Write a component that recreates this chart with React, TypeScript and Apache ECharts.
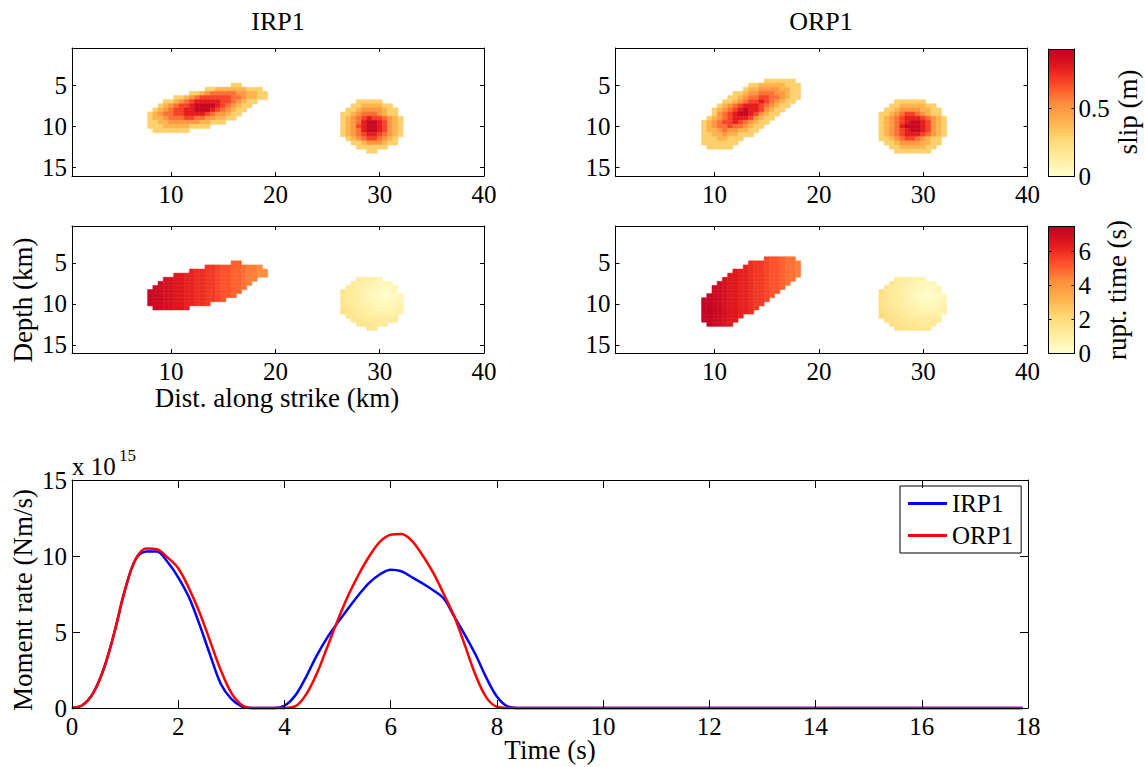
import React, { useEffect, useRef } from 'react';
import * as echarts from 'echarts';

const FONT = '"Liberation Serif", "Times New Roman", serif';
const FS = 25;
const LABEL_FS = 27;
const COLORMAP = ['#ffffcc', '#ffeda0', '#fed976', '#feb24c', '#fd8d3c', '#fc4e2a', '#e31a1c', '#bd0026'];

const SLIP_MAX = 0.94;
const RUPT_MAX = 7.45;
const SLIP_UNIT = 0.1; // one code step in metres
const RUPT_UNIT = 0.25; // one code step in seconds
const CELL = 0.5; // km

// rows: [depth (km), first along-strike cell (km), base-36 codes per 0.5 km cell]
type Row = [number, number, string];

const slipIRP1: Row[] = [
  [5.0, 16.0, '33'],
  [5.5, 13.5, '33444444333'],
  [6.0, 12.0, '334566666554433'],
  [6.5, 10.5, '334567777776654433'],
  [7.0, 9.5, '334567888887765433'],
  [7.5, 9.0, '345677899998765433'],
  [8.0, 8.5, '345677889998765433'],
  [8.5, 8.0, '345667788887655433'],
  [9.0, 8.0, '34456667766554433'],
  [9.5, 8.0, '334455555544333'],
  [10.0, 8.0, '333444443333'],
  [10.5, 8.5, '3333333'],
  [7.0, 28.0, '33333'],
  [7.5, 27.5, '33444433'],
  [8.0, 27.0, '3345555433'],
  [8.5, 26.5, '33456665433'],
  [9.0, 26.5, '345678776543'],
  [9.5, 26.5, '345689987543'],
  [10.0, 26.5, '345789987543'],
  [10.5, 26.5, '345689987543'],
  [11.0, 26.5, '345678876543'],
  [11.5, 27.0, '3456776543'],
  [12.0, 27.5, '334555433'],
  [12.5, 28.0, '333333'],
  [13.0, 29.0, '33'],
];

const slipORP1: Row[] = [
  [4.5, 15.0, '333333'],
  [5.0, 13.5, '3344444333'],
  [5.5, 13.0, '34455554433'],
  [6.0, 12.0, '3345566655433'],
  [6.5, 11.5, '33456677665433'],
  [7.0, 11.0, '33456778765433'],
  [7.5, 10.5, '34567888765433'],
  [8.0, 10.0, '34567898875433'],
  [8.5, 10.0, '3567899875433'],
  [9.0, 9.5, '3456788875433'],
  [9.5, 9.0, '3456778765433'],
  [10.0, 9.0, '345667665433'],
  [10.5, 9.0, '34456554433'],
  [11.0, 9.0, '3344544333'],
  [11.5, 9.0, '33344333'],
  [12.0, 9.0, '3333333'],
  [12.5, 9.5, '33333'],
  [7.0, 27.5, '333333'],
  [7.5, 27.0, '334444433'],
  [8.0, 26.5, '33455554433'],
  [8.5, 26.0, '334567765433'],
  [9.0, 26.0, '3456788876543'],
  [9.5, 26.0, '3456789987543'],
  [10.0, 26.0, '3456899987543'],
  [10.5, 26.0, '3456789987543'],
  [11.0, 26.0, '3456788876543'],
  [11.5, 26.0, '334567765433'],
  [12.0, 26.5, '33455554433'],
  [12.5, 27.0, '334444433'],
  [13.0, 27.5, '3333333'],
];

const ruptIRP1: Row[] = [
  [5.0, 16.0, 'kk'],
  [5.5, 13.5, 'nnmllkkjiih'],
  [6.0, 12.0, 'poonnmllkkjiihh'],
  [6.5, 10.5, 'qqppoonnmllkkjiihh'],
  [7.0, 9.5, 'rrqqppoonnmllkkjii'],
  [7.5, 9.0, 'srrqqppoonnmllkkji'],
  [8.0, 8.5, 'ssrrqqppoonnmllkkj'],
  [8.5, 8.0, 'tssrrqqppoonnmllkk'],
  [9.0, 8.0, 'tssrrqqppoonnmllk'],
  [9.5, 8.0, 'tssrrqqppoonnml'],
  [10.0, 8.0, 'tssrrqqppoon'],
  [10.5, 8.5, 'ssrrqqp'],
  [7.0, 28.0, '54433'],
  [7.5, 27.5, '54433222'],
  [8.0, 27.0, '5543322122'],
  [8.5, 26.5, '65543221112'],
  [9.0, 26.5, '654432110112'],
  [9.5, 26.5, '655432211122'],
  [10.0, 26.5, '655433221223'],
  [10.5, 26.5, '665443322233'],
  [11.0, 26.5, '765544333334'],
  [11.5, 27.0, '6655444444'],
  [12.0, 27.5, '665555455'],
  [12.5, 28.0, '666555'],
  [13.0, 29.0, '66'],
];

const ruptORP1: Row[] = [
  [4.5, 15.0, 'mllkjj'],
  [5.0, 13.5, 'onnmllkjji'],
  [5.5, 13.0, 'ponnmllkjji'],
  [6.0, 12.0, 'qpponnmllkjji'],
  [6.5, 11.5, 'qqpponnmllkjji'],
  [7.0, 11.0, 'rqqpponnmllkjj'],
  [7.5, 10.5, 'srqqpponnmllkj'],
  [8.0, 10.0, 'ssrqqpponnmllk'],
  [8.5, 10.0, 'ssrqqpponnmll'],
  [9.0, 9.5, 'tssrqqpponnml'],
  [9.5, 9.0, 'ttssrqqpponnm'],
  [10.0, 9.0, 'ttssrqqpponn'],
  [10.5, 9.0, 'ttssrqqppon'],
  [11.0, 9.0, 'ttssrqqppo'],
  [11.5, 9.0, 'ttssrqqp'],
  [12.0, 9.0, 'ttssrqq'],
  [12.5, 9.5, 'tssrq'],
  [7.0, 27.5, '554433'],
  [7.5, 27.0, '654433222'],
  [8.0, 26.5, '65543322122'],
  [8.5, 26.0, '765543221112'],
  [9.0, 26.0, '7654432110112'],
  [9.5, 26.0, '7655432211122'],
  [10.0, 26.0, '7655433221223'],
  [10.5, 26.0, '7665443322233'],
  [11.0, 26.0, '7765544333334'],
  [11.5, 26.0, '876655444444'],
  [12.0, 26.5, '77665555455'],
  [12.5, 27.0, '776665555'],
  [13.0, 27.5, '7776666'],
];

// Moment rate (x 10^15 Nm/s)
const timeSec = [0, 0.2, 0.4, 0.6, 0.8, 1.0, 1.2, 1.4, 1.6, 1.8, 2.0, 2.2, 2.4, 2.6, 2.8, 3.0, 3.2, 3.4, 3.6, 3.8,
  4.0, 4.2, 4.4, 4.6, 4.8, 5.0, 5.2, 5.4, 5.6, 5.8, 6.0, 6.2, 6.4, 6.6, 6.8, 7.0, 7.2, 7.4, 7.6, 7.8, 8.0, 8.2, 8.4, 8.6, 17.9];
const rateIRP1 = [0, 0.2, 1.0, 2.6, 5.0, 7.8, 9.8, 10.3, 10.3, 9.6, 8.6, 7.3, 5.5, 3.5, 1.6, 0.6, 0.1, 0, 0, 0,
  0.15, 0.8, 2.0, 3.4, 4.6, 5.6, 6.55, 7.45, 8.25, 8.8, 9.1, 9.0, 8.6, 8.2, 7.75, 7.2, 6.0, 4.8, 3.5, 2.0, 0.75, 0.1, 0, 0, 0];
const rateORP1 = [0, 0.2, 1.0, 2.6, 5.0, 7.8, 9.8, 10.5, 10.45, 9.9, 9.2, 7.9, 6.3, 4.4, 2.5, 1.0, 0.2, 0, 0, 0,
  0, 0.1, 0.85, 2.2, 3.95, 5.75, 7.4, 8.8, 10.0, 10.95, 11.4, 11.45, 11.0, 10.05, 8.9, 7.5, 6.0, 4.1, 2.15, 0.7, 0.08, 0, 0, 0, 0];

const strikeTicks = [10, 20, 30, 40];
const depthTicks = [5, 10, 15];
const slipTicks = [0, 0.5];
const ruptTicks = [0, 2, 4, 6];

function decode(rows: Row[], unit: number): number[][] {
  const out: number[][] = [];
  for (const [y, x0, codes] of rows) {
    for (let i = 0; i < codes.length; i++) {
      out.push([x0 + i * CELL, y, parseInt(codes[i], 36) * unit]);
    }
  }
  return out;
}

const black = { color: '#000', width: 1 };
const labelStyle = { color: '#000', fontFamily: FONT, fontSize: FS };

function axis(extra: any) {
  return {
    type: 'value',
    z: 6,
    axisLine: { show: true, onZero: false, lineStyle: black },
    splitLine: { show: false },
    ...extra,
  };
}

function heatAxes(g: number) {
  const xa = [
    axis({ gridIndex: g, min: 0.5, max: 40, position: 'bottom',
      axisTick: { show: true, inside: true, length: 4, customValues: strikeTicks, lineStyle: black },
      axisLabel: { show: true, customValues: strikeTicks, margin: 6, ...labelStyle } }),
    axis({ gridIndex: g, min: 0.5, max: 40, position: 'top',
      axisTick: { show: true, inside: true, length: 4, customValues: strikeTicks, lineStyle: black },
      axisLabel: { show: false } }),
  ];
  const ya = [
    axis({ gridIndex: g, min: 0.5, max: 16, inverse: true, position: 'left',
      axisTick: { show: true, inside: true, length: 4, customValues: depthTicks, lineStyle: black },
      axisLabel: { show: true, customValues: depthTicks, margin: 5, ...labelStyle } }),
    axis({ gridIndex: g, min: 0.5, max: 16, inverse: true, position: 'right',
      axisTick: { show: true, inside: true, length: 4, customValues: depthTicks, lineStyle: black },
      axisLabel: { show: false } }),
  ];
  return { xa, ya };
}

function barAxes(g: number, max: number, ticks: number[]) {
  const xa = [
    axis({ gridIndex: g, min: 0, max: 1, position: 'bottom', axisTick: { show: false }, axisLabel: { show: false } }),
    axis({ gridIndex: g, min: 0, max: 1, position: 'top', axisTick: { show: false }, axisLabel: { show: false } }),
  ];
  const inner = ticks.filter((t) => t > 0);
  const ya = [
    axis({ gridIndex: g, min: 0, max, position: 'left',
      axisTick: { show: true, inside: true, length: 3, customValues: inner, lineStyle: black },
      axisLabel: { show: false } }),
    axis({ gridIndex: g, min: 0, max, position: 'right',
      axisTick: { show: true, inside: true, length: 3, customValues: inner, lineStyle: black },
      axisLabel: { show: true, customValues: ticks, margin: 4, ...labelStyle } }),
  ];
  return { xa, ya };
}

function cellRender(params: any, api: any) {
  const x = api.value(0);
  const y = api.value(1);
  const p0 = api.coord([x - CELL / 2, y - CELL / 2]);
  const p1 = api.coord([x + CELL / 2, y + CELL / 2]);
  const color = api.visual('color');
  return {
    type: 'rect',
    shape: {
      x: Math.min(p0[0], p1[0]),
      y: Math.min(p0[1], p1[1]),
      width: Math.abs(p1[0] - p0[0]),
      height: Math.abs(p1[1] - p0[1]),
    },
    style: { fill: color, stroke: color, lineWidth: 0.5 },
  };
}

function barRender(params: any) {
  const cs = params.coordSys;
  const stops = COLORMAP.map((c, i) => ({ offset: 1 - i / (COLORMAP.length - 1), color: c }));
  stops.reverse();
  return {
    type: 'rect',
    shape: { x: cs.x, y: cs.y, width: cs.width, height: cs.height },
    style: { fill: new echarts.graphic.LinearGradient(0, 0, 0, 1, stops) },
  };
}

function txt(text: string, x: number, y: number, rotation = 0, size = LABEL_FS, align = 'center') {
  return {
    type: 'text',
    x,
    y,
    rotation,
    silent: true,
    style: {
      text,
      fill: '#000',
      fontSize: size,
      fontFamily: FONT,
      align,
      verticalAlign: 'middle',
      textAlign: align,
      textVerticalAlign: 'middle',
    },
  };
}

function buildOption() {
  const xAxis: any[] = [];
  const yAxis: any[] = [];
  for (let g = 0; g < 4; g++) {
    const { xa, ya } = heatAxes(g);
    xAxis.push(...xa);
    yAxis.push(...ya);
  }
  // grid 4: moment rate
  xAxis.push(
    axis({ gridIndex: 4, min: 0, max: 18, interval: 2, position: 'bottom',
      axisTick: { show: true, inside: true, length: 8, lineStyle: black },
      axisLabel: { show: true, margin: 6, ...labelStyle } }),
    axis({ gridIndex: 4, min: 0, max: 18, interval: 2, position: 'top',
      axisTick: { show: true, inside: true, length: 8, lineStyle: black },
      axisLabel: { show: false } }),
  );
  yAxis.push(
    axis({ gridIndex: 4, min: 0, max: 15, interval: 5, position: 'left',
      axisTick: { show: true, inside: true, length: 8, lineStyle: black },
      axisLabel: { show: true, margin: 5, ...labelStyle } }),
    axis({ gridIndex: 4, min: 0, max: 15, interval: 5, position: 'right',
      axisTick: { show: true, inside: true, length: 8, lineStyle: black },
      axisLabel: { show: false } }),
  );
  const b1 = barAxes(5, SLIP_MAX, slipTicks);
  const b2 = barAxes(6, RUPT_MAX, ruptTicks);
  xAxis.push(...b1.xa, ...b2.xa);
  yAxis.push(...b1.ya, ...b2.ya);

  const heat = (name: string, idx: number, data: number[][]) => ({
    type: 'custom',
    name,
    xAxisIndex: idx,
    yAxisIndex: idx,
    data,
    encode: { x: 0, y: 1 },
    renderItem: cellRender,
    z: 2,
  });

  const lineData = (vals: number[]) => timeSec.map((t, i) => [t, vals[i]]);

  return {
    animation: false,
    textStyle: { fontFamily: FONT },
    grid: [
      { left: 72, top: 48, width: 412, height: 128 },
      { left: 615.5, top: 48, width: 412, height: 128 },
      { left: 72, top: 226, width: 412, height: 127 },
      { left: 615.5, top: 226, width: 412, height: 127 },
      { left: 72, top: 480, width: 956, height: 228 },
      { left: 1048.5, top: 49, width: 26, height: 127 },
      { left: 1048.5, top: 226.5, width: 26, height: 126.5 },
    ],
    xAxis,
    yAxis,
    visualMap: [
      { type: 'continuous', show: false, min: 0, max: SLIP_MAX, dimension: 2, seriesIndex: [0, 1], inRange: { color: COLORMAP } },
      { type: 'continuous', show: false, min: 0, max: RUPT_MAX, dimension: 2, seriesIndex: [2, 3], inRange: { color: COLORMAP } },
    ],
    legend: {
      left: 900,
      top: 486,
      orient: 'vertical',
      selectedMode: false,
      itemWidth: 39,
      itemHeight: 3,
      itemGap: 7,
      padding: [5, 8, 5, 8],
      borderColor: '#000',
      borderWidth: 1,
      backgroundColor: '#fff',
      textStyle: { color: '#000', fontFamily: FONT, fontSize: FS },
      data: [
        { name: 'IRP1', icon: 'rect' },
        { name: 'ORP1', icon: 'rect' },
      ],
    },
    series: [
      heat('slip IRP1', 0, decode(slipIRP1, SLIP_UNIT)),
      heat('slip ORP1', 2, decode(slipORP1, SLIP_UNIT)),
      heat('rupt IRP1', 4, decode(ruptIRP1, RUPT_UNIT)),
      heat('rupt ORP1', 6, decode(ruptORP1, RUPT_UNIT)),
      {
        type: 'line', name: 'IRP1', xAxisIndex: 8, yAxisIndex: 8, data: lineData(rateIRP1),
        showSymbol: false, symbol: 'none', smooth: 0.35, clip: false, color: '#0000ff',
        lineStyle: { color: '#0000ff', width: 2.5 }, itemStyle: { color: '#0000ff' }, z: 3,
      },
      {
        type: 'line', name: 'ORP1', xAxisIndex: 8, yAxisIndex: 8, data: lineData(rateORP1),
        showSymbol: false, symbol: 'none', smooth: 0.35, clip: false, color: '#ff0000',
        lineStyle: { color: '#ff0000', width: 2.5 }, itemStyle: { color: '#ff0000' }, z: 4,
      },
      { type: 'custom', name: 'slip bar', xAxisIndex: 10, yAxisIndex: 10, data: [[0.5, 0.5]], renderItem: barRender, z: 1 },
      { type: 'custom', name: 'rupt bar', xAxisIndex: 12, yAxisIndex: 12, data: [[0.5, 1]], renderItem: barRender, z: 1 },
    ],
    graphic: [
      txt('IRP1', 278, 21, 0, 26),
      txt('ORP1', 821, 21, 0, 26),
      txt('Depth (km)', 23, 300, Math.PI / 2),
      txt('Dist. along strike (km)', 277, 398),
      txt('slip (m)', 1128, 112, Math.PI / 2),
      txt('rupt. time (s)', 1117, 290, Math.PI / 2),
      txt('Moment rate (Nm/s)', 23, 600, Math.PI / 2),
      txt('Time (s)', 550, 750),
      txt('x 10', 72, 466, 0, FS, 'left'),
      txt('15', 119, 455, 0, 17, 'left'),
    ],
  };
}

export default function App() {
  const ref = useRef<HTMLDivElement>(null);
  useEffect(() => {
    document.body.style.margin = '0';
    const chart = echarts.init(ref.current as HTMLDivElement, null, { renderer: 'svg' });
    chart.setOption(buildOption() as any);
    return () => {
      chart.dispose();
    };
  }, []);
  return <div ref={ref} style={{ width: 1145, height: 767, background: '#fff' }} />;
}
